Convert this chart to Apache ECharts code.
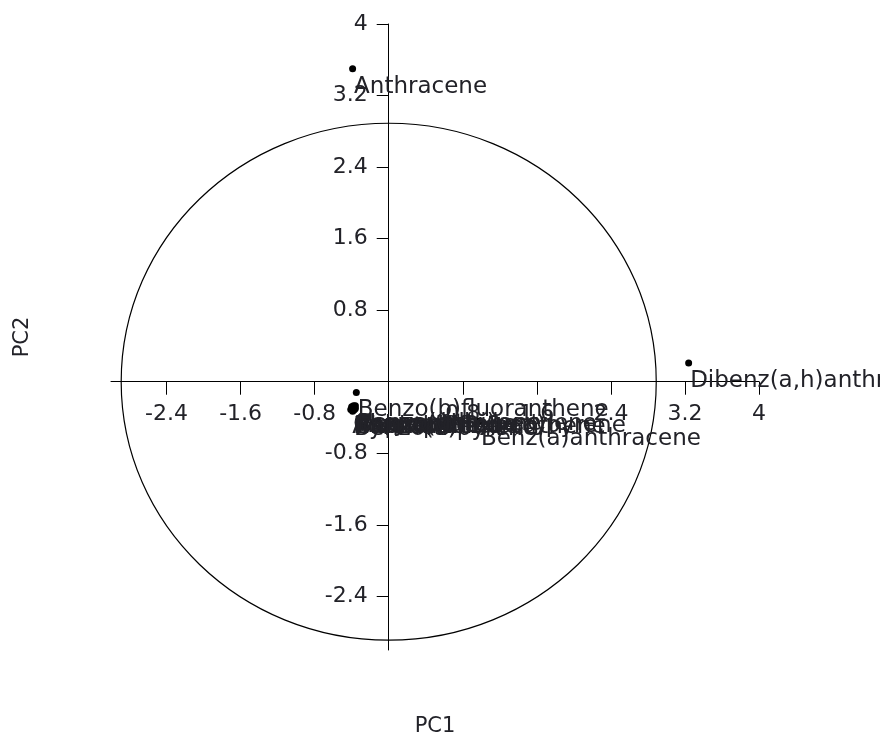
<!DOCTYPE html>
<html><head><meta charset="utf-8">
<script src="https://cdn.jsdelivr.net/npm/echarts@6/dist/echarts.min.js"></script>
<style>html,body{margin:0;padding:0;background:#fff}#c{width:880px;height:737px}</style>
</head><body><div id="c"></div>
<script>
// PCA scores of PAH compounds
const compounds = [
  'Naphthalene','Acenaphthylene','Acenaphthene','Fluorene','Phenanthrene',
  'Anthracene','Fluoranthene','Pyrene','Benz(a)anthracene','Chrysene',
  'Benzo(b)fluoranthene','Benzo(k)fluoranthene','Benzo(a)pyrene',
  'Indeno(1,2,3-cd)pyrene','Dibenz(a,h)anthracene','Benzo(g,h,i)perylene'
];
const pc1 = [-0.40,-0.38,-0.41,-0.39,-0.37,-0.39,-0.36,-0.38,0.98,-0.40,-0.35,-0.37,-0.39,-0.38,3.24,-0.36];
const pc2 = [-0.30,-0.27,-0.31,-0.29,-0.28,3.50,-0.30,-0.32,-0.44,-0.28,-0.12,-0.31,-0.33,-0.29,0.21,-0.27];
const xTicks = [-2.4,-1.6,-0.8,0.8,1.6,2.4,3.2,4];
const yTicks = [-2.4,-1.6,-0.8,0.8,1.6,2.4,3.2,4];
const circleRadius = 2.89;
const axisMin = -3, axisMax = 4;

const FONT = 'DejaVu Sans';
const TXT = '#222228';
const points = compounds.map((n,i)=>({name:n, value:[pc1[i], pc2[i]]}));

const chart = echarts.init(document.getElementById('c'), null, {renderer:'canvas'});
chart.setOption({
  animation:false,
  backgroundColor:'#fff',
  grid:{left:111, right:121, top:24, bottom:87, outerBoundsMode:'none', containLabel:false},
  xAxis:{
    type:'value', min:axisMin, max:axisMax, offset:0,
    splitLine:{show:false},
    axisLine:{onZero:false, lineStyle:{color:'#000', width:1}},
    axisTick:{show:true, inside:false, length:13, customValues:xTicks, lineStyle:{color:'#000'}},
    axisLabel:{customValues:xTicks, margin:22, fontSize:22, fontFamily:FONT, color:TXT,
      hideOverlap:false, formatter:v=>String(v)},
    name:'PC1', nameLocation:'middle', nameGap:334, nameMoveOverlap:false,
    nameTextStyle:{fontSize:21, fontFamily:FONT, color:TXT}
  },
  yAxis:{
    type:'value', min:axisMin, max:axisMax, offset:0,
    splitLine:{show:false},
    axisLine:{onZero:false, lineStyle:{color:'#000', width:1}},
    axisTick:{show:true, inside:false, length:12, customValues:yTicks, lineStyle:{color:'#000'}},
    axisLabel:{customValues:yTicks, margin:21, fontSize:22, fontFamily:FONT, color:TXT,
      hideOverlap:false, formatter:v=>String(v)},
    name:'PC2', nameLocation:'middle', nameGap:356, nameMoveOverlap:false,
    nameTextStyle:{fontSize:21, fontFamily:FONT, color:TXT}
  },
  series:[
    {
      type:'custom', silent:true, z:1,
      data:[[0,0]],
      renderItem:function(params, api){
        const c = api.coord([0,0]);
        const px = api.coord([circleRadius,0]);
        const py = api.coord([0,circleRadius]);
        return {type:'ellipse', shape:{cx:c[0], cy:c[1], rx:Math.abs(px[0]-c[0]), ry:Math.abs(c[1]-py[1])},
          style:{fill:null, stroke:'#000', lineWidth:1.2}};
      }
    },
    {
      type:'scatter', z:3,
      symbol:'circle', symbolSize:7,
      itemStyle:{color:'#000', opacity:1},
      data:points,
      label:{show:true, formatter:'{b}', position:[5,10], align:'left', verticalAlign:'top',
        fontSize:23, fontFamily:FONT, color:TXT, opacity:1},
      labelLayout:{hideOverlap:false}
    }
  ]
});

// Place both axes so they cross at the origin, using the library's own scales.
const origin = chart.convertToPixel({gridIndex:0}, [0,0]);
const corner = chart.convertToPixel({gridIndex:0}, [axisMin,axisMin]);
chart.setOption({
  xAxis:{offset:-(corner[1]-origin[1])},
  yAxis:{offset:-(origin[0]-corner[0])}
});
</script>
</body></html>
